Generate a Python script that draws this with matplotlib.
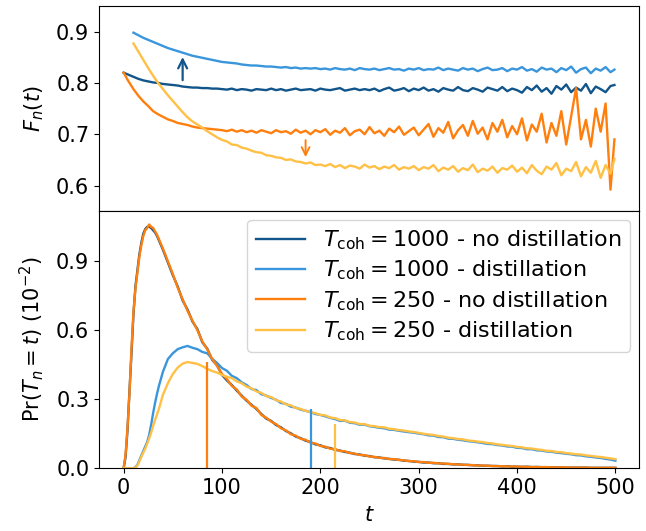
import matplotlib
matplotlib.use("Agg")
import matplotlib.pyplot as plt

# ---------------- data ----------------
t_top_nd = list(range(0, 500, 5)) + [499]
t_top_d = list(range(10, 500, 5)) + [499]

F_1000_nodist = [
    0.820, 0.816, 0.812, 0.808, 0.805, 0.803, 0.801, 0.800, 0.798, 0.797, 0.796,
    0.795, 0.793, 0.792, 0.791, 0.791, 0.790, 0.790, 0.789, 0.789, 0.788,
    0.787, 0.789, 0.786, 0.788, 0.787, 0.785, 0.788, 0.787, 0.786, 0.789,
    0.786, 0.788, 0.785, 0.787, 0.789, 0.786, 0.787, 0.788, 0.785, 0.789,
    0.787, 0.786, 0.788, 0.790, 0.785, 0.787, 0.789, 0.786, 0.788, 0.786,
    0.789, 0.784, 0.788, 0.791, 0.785, 0.787, 0.790, 0.784, 0.789, 0.786,
    0.791, 0.785, 0.788, 0.783, 0.790, 0.787, 0.785, 0.792, 0.786, 0.784,
    0.790, 0.787, 0.783, 0.791, 0.788, 0.785, 0.792, 0.784, 0.789, 0.786,
    0.781, 0.792, 0.786, 0.795, 0.783, 0.790, 0.779, 0.794, 0.787, 0.797,
    0.782, 0.791, 0.785, 0.798, 0.780, 0.793, 0.788, 0.782, 0.794,
    0.796,
]
F_1000_dist = [
    0.898, 0.893, 0.888, 0.884, 0.880, 0.876, 0.872, 0.868, 0.865, 0.862,
    0.859, 0.856, 0.853, 0.851, 0.849, 0.847, 0.845, 0.843, 0.841,
    0.840, 0.839, 0.838, 0.836, 0.835, 0.834, 0.834, 0.833, 0.832, 0.832,
    0.831, 0.830, 0.831, 0.829, 0.830, 0.828, 0.829, 0.828, 0.829, 0.827,
    0.828, 0.826, 0.829, 0.827, 0.826, 0.828, 0.825, 0.829, 0.827, 0.826,
    0.828, 0.825, 0.827, 0.829, 0.826, 0.827, 0.824, 0.828, 0.826, 0.829,
    0.825, 0.827, 0.826, 0.830, 0.825, 0.828, 0.826, 0.824, 0.829, 0.826,
    0.828, 0.823, 0.827, 0.830, 0.825, 0.826, 0.829, 0.823, 0.828, 0.826,
    0.831, 0.824, 0.827, 0.822, 0.830, 0.826, 0.828, 0.821, 0.829, 0.825,
    0.832, 0.820, 0.827, 0.830, 0.819, 0.828, 0.824, 0.831, 0.821,
    0.826,
]
F_250_nodist = [
    0.820, 0.803, 0.788, 0.775, 0.764, 0.755, 0.745, 0.739, 0.734, 0.729, 0.726,
    0.722, 0.720, 0.718, 0.715, 0.713, 0.712, 0.711, 0.710, 0.709, 0.708,
    0.706, 0.709, 0.705, 0.708, 0.704, 0.707, 0.703, 0.708, 0.705, 0.702,
    0.708, 0.704, 0.706, 0.701, 0.709, 0.703, 0.707, 0.700, 0.708, 0.704,
    0.710, 0.699, 0.707, 0.703, 0.712, 0.698, 0.706, 0.709, 0.700, 0.714,
    0.702, 0.707, 0.697, 0.711, 0.704, 0.715, 0.699, 0.706, 0.713, 0.698,
    0.709, 0.720, 0.695, 0.712, 0.703, 0.724, 0.692, 0.708, 0.718, 0.697,
    0.726, 0.701, 0.713, 0.690, 0.722, 0.705, 0.728, 0.694, 0.716, 0.700,
    0.731, 0.688, 0.719, 0.705, 0.740, 0.684, 0.722, 0.697, 0.745, 0.680,
    0.735, 0.790, 0.690, 0.728, 0.676, 0.750, 0.705, 0.760, 0.592,
    0.690,
]
F_250_dist = [
    0.877, 0.861, 0.845, 0.829, 0.814, 0.800, 0.788, 0.776, 0.765, 0.754,
    0.743, 0.733, 0.725, 0.719, 0.713, 0.706, 0.700, 0.694, 0.689,
    0.686, 0.680, 0.679, 0.674, 0.672, 0.668, 0.665, 0.664, 0.659, 0.658,
    0.655, 0.654, 0.650, 0.651, 0.647, 0.646, 0.643, 0.645, 0.640, 0.641,
    0.638, 0.642, 0.636, 0.640, 0.634, 0.639, 0.637, 0.633, 0.641, 0.635,
    0.638, 0.632, 0.637, 0.634, 0.640, 0.631, 0.636, 0.633, 0.638, 0.630,
    0.636, 0.633, 0.640, 0.628, 0.635, 0.631, 0.638, 0.627, 0.634, 0.630,
    0.641, 0.626, 0.633, 0.629, 0.637, 0.625, 0.634, 0.631, 0.639, 0.627,
    0.635, 0.624, 0.640, 0.629, 0.622, 0.637, 0.631, 0.644, 0.620, 0.633,
    0.628, 0.646, 0.618, 0.636, 0.625, 0.648, 0.615, 0.640, 0.623,
    0.652,
]

t_bot = list(range(0, 41, 2)) + list(range(45, 501, 5))

P_1000_nodist = [
    0.0, 0.05, 0.17, 0.34, 0.50, 0.67, 0.79, 0.86, 0.93, 0.98, 1.02,
    1.04, 1.05, 1.05, 1.045, 1.035, 1.025, 1.01, 0.99, 0.97, 0.95,
    0.895, 0.84, 0.79, 0.73, 0.690, 0.638, 0.605, 0.548, 0.520, 0.472, 0.448, 0.406,
    0.382, 0.362, 0.338, 0.316, 0.294, 0.276, 0.258, 0.236, 0.216, 0.206,
    0.188, 0.178, 0.162, 0.152, 0.138, 0.131, 0.120, 0.114, 0.104, 0.100,
    0.091, 0.088, 0.080, 0.077, 0.071, 0.068, 0.062, 0.060, 0.055, 0.053,
    0.048, 0.047, 0.043, 0.041, 0.038, 0.037, 0.033, 0.032, 0.029, 0.028,
    0.025, 0.025, 0.022, 0.022, 0.019, 0.019, 0.017, 0.017, 0.015, 0.015,
    0.013, 0.013, 0.011, 0.011, 0.010, 0.010, 0.008, 0.009, 0.007, 0.007,
    0.006, 0.007, 0.005, 0.006, 0.005, 0.005, 0.004, 0.004, 0.004, 0.003,
    0.003, 0.003, 0.003, 0.003, 0.002, 0.002, 0.002, 0.002, 0.002, 0.002,
]
P_1000_dist = [
    0, 0, 0, 0, 0, 0, 0.005, 0.015, 0.035, 0.055, 0.075,
    0.095, 0.115, 0.145, 0.19, 0.24, 0.285, 0.325, 0.36, 0.39, 0.42,
    0.475, 0.50, 0.518, 0.526, 0.532, 0.524, 0.518, 0.506, 0.500, 0.476, 0.458, 0.436,
    0.424, 0.402, 0.392, 0.374, 0.362, 0.345, 0.340, 0.322, 0.316, 0.306,
    0.298, 0.284, 0.280, 0.268, 0.264, 0.255, 0.250, 0.244, 0.236, 0.232,
    0.226, 0.219, 0.214, 0.206, 0.207, 0.198, 0.196, 0.189, 0.190, 0.183,
    0.180, 0.176, 0.174, 0.168, 0.167, 0.163, 0.160, 0.157, 0.155, 0.151,
    0.148, 0.143, 0.142, 0.136, 0.135, 0.129, 0.128, 0.124, 0.122, 0.118,
    0.116, 0.113, 0.110, 0.106, 0.105, 0.101, 0.099, 0.095, 0.094, 0.089,
    0.088, 0.083, 0.083, 0.078, 0.077, 0.073, 0.072, 0.068, 0.066, 0.063,
    0.061, 0.057, 0.056, 0.052, 0.050, 0.047, 0.045, 0.041, 0.038, 0.033,
]
P_250_nodist = [
    0.0, 0.06, 0.18, 0.33, 0.52, 0.68, 0.78, 0.85, 0.92, 0.97, 1.01,
    1.035, 1.045, 1.06, 1.05, 1.045, 1.03, 1.015, 0.995, 0.975, 0.955,
    0.90, 0.845, 0.785, 0.735, 0.684, 0.642, 0.600, 0.552, 0.517, 0.476, 0.445, 0.410,
    0.388, 0.358, 0.343, 0.312, 0.298, 0.272, 0.262, 0.232, 0.220, 0.203,
    0.192, 0.174, 0.165, 0.148, 0.142, 0.128, 0.124, 0.111, 0.108, 0.097,
    0.094, 0.085, 0.084, 0.075, 0.074, 0.066, 0.064, 0.058, 0.057, 0.051,
    0.050, 0.045, 0.045, 0.040, 0.040, 0.036, 0.035, 0.031, 0.031, 0.027,
    0.027, 0.024, 0.024, 0.021, 0.021, 0.019, 0.018, 0.016, 0.016, 0.014,
    0.014, 0.012, 0.012, 0.011, 0.010, 0.009, 0.009, 0.008, 0.008, 0.007,
    0.007, 0.006, 0.006, 0.005, 0.005, 0.005, 0.004, 0.004, 0.004, 0.004,
    0.003, 0.003, 0.003, 0.003, 0.002, 0.002, 0.002, 0.002, 0.002, 0.002,
]
P_250_dist = [
    0, 0, 0, 0, 0, 0, 0.003, 0.012, 0.03, 0.05, 0.068,
    0.086, 0.108, 0.13, 0.155, 0.185, 0.21, 0.235, 0.26, 0.29, 0.32,
    0.37, 0.41, 0.438, 0.455, 0.462, 0.458, 0.454, 0.444, 0.432, 0.423, 0.416, 0.406,
    0.398, 0.392, 0.378, 0.370, 0.355, 0.348, 0.334, 0.328, 0.314, 0.310,
    0.296, 0.290, 0.278, 0.274, 0.262, 0.258, 0.250, 0.244, 0.240, 0.232,
    0.230, 0.221, 0.218, 0.210, 0.208, 0.201, 0.199, 0.192, 0.192, 0.185,
    0.183, 0.179, 0.178, 0.172, 0.170, 0.166, 0.164, 0.160, 0.158, 0.154,
    0.150, 0.147, 0.145, 0.140, 0.138, 0.133, 0.131, 0.127, 0.126, 0.121,
    0.119, 0.116, 0.114, 0.110, 0.108, 0.104, 0.102, 0.099, 0.097, 0.093,
    0.091, 0.087, 0.086, 0.082, 0.080, 0.076, 0.075, 0.071, 0.070, 0.066,
    0.064, 0.061, 0.060, 0.056, 0.054, 0.051, 0.049, 0.046, 0.043, 0.040,
]

# vertical marker lines (t, height)
vline_t = [85, 190, 215]
vline_h = [0.464, 0.257, 0.192]

labels = [
    r"$T_{\mathrm{coh}} = 1000$ - no distillation",
    r"$T_{\mathrm{coh}} = 1000$ - distillation",
    r"$T_{\mathrm{coh}} = 250$ - no distillation",
    r"$T_{\mathrm{coh}} = 250$ - distillation",
]
colors = ["#12558a", "#3a96dc", "#ff7f0e", "#ffc045"]

# ---------------- plot ----------------
plt.rcParams["font.size"] = 15
fig = plt.figure(figsize=(6.46, 5.31), dpi=100)
L, R = 0.1533, 0.9892
ax1 = fig.add_axes([L, 0.6032, R - L, 0.9887 - 0.6032])
ax2 = fig.add_axes([L, 0.1181, R - L, 0.6032 - 0.1181], sharex=ax1)

lw = 1.7
ax1.plot(t_top_nd, F_1000_nodist, color=colors[0], lw=lw)
ax1.plot(t_top_d, F_1000_dist, color=colors[1], lw=lw)
ax1.plot(t_top_nd, F_250_nodist, color=colors[2], lw=lw)
ax1.plot(t_top_d, F_250_dist, color=colors[3], lw=lw)

ax1.annotate("", xy=(60, 0.856), xytext=(60, 0.800),
             arrowprops=dict(arrowstyle="->", color=colors[0], lw=1.6,
                             mutation_scale=16))
ax1.annotate("", xy=(185, 0.650), xytext=(185, 0.694),
             arrowprops=dict(arrowstyle="->", color=colors[2], lw=1.4,
                             mutation_scale=14))

ax1.set_ylim(0.551, 0.95)
ax1.set_yticks([0.6, 0.7, 0.8, 0.9])
ax1.set_ylabel(r"$F_n(t)$", labelpad=7)
ax1.tick_params(axis="x", bottom=False, labelbottom=False)

h = []
h.append(ax2.plot(t_bot, P_1000_nodist, color=colors[0], lw=lw)[0])
h.append(ax2.plot(t_bot, P_1000_dist, color=colors[1], lw=lw)[0])
h.append(ax2.plot(t_bot, P_250_nodist, color=colors[2], lw=lw)[0])
h.append(ax2.plot(t_bot, P_250_dist, color=colors[3], lw=lw)[0])

ax2.vlines(vline_t, 0, vline_h, colors=[colors[2], colors[1], colors[3]], lw=1.6)

ax2.set_xlim(-25, 524)
ax2.set_ylim(0, 1.12)
ax2.set_yticks([0.0, 0.3, 0.6, 0.9])
ax2.set_xticks([0, 100, 200, 300, 400, 500])
ax2.set_xlabel(r"$t$", labelpad=5)
ax2.set_ylabel(r"$\Pr(T_n = t)$ $(10^{-2})$", labelpad=7)
ax2.legend(h, labels, loc="upper right", fontsize=16, labelspacing=0.3,
           handlelength=2.2, borderaxespad=0.4)

fig.savefig("out.png", dpi=100)
